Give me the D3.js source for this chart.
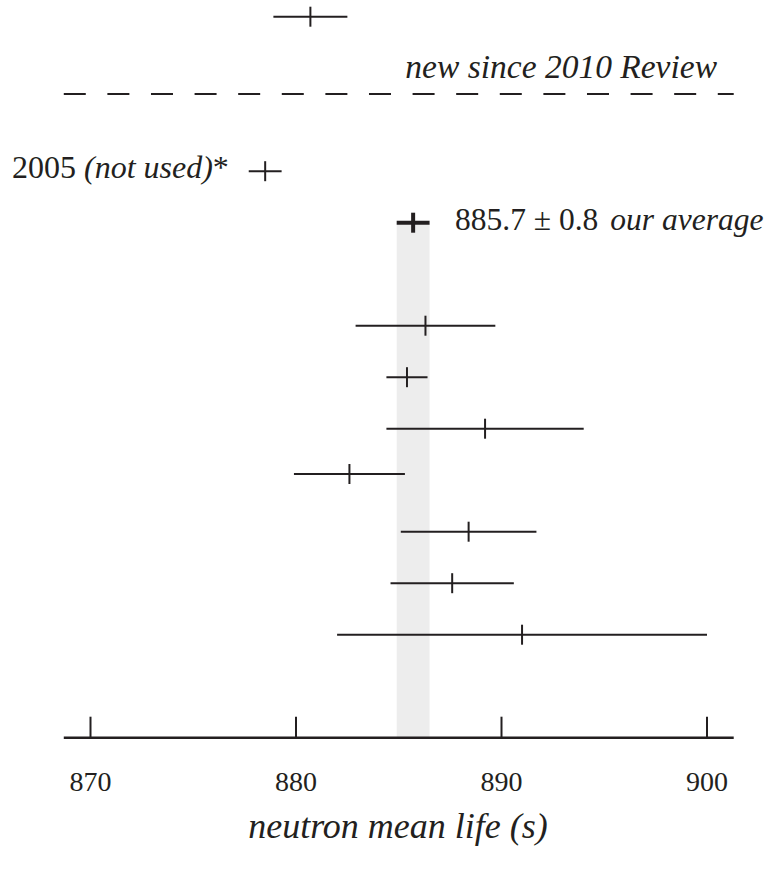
<!DOCTYPE html>
<html>
<head>
<meta charset="utf-8">
<script src="https://cdn.jsdelivr.net/npm/d3@7"></script>
<style>
  html, body { margin: 0; padding: 0; background: #fff; }
</style>
</head>
<body>
<div id="chart"></div>
<script>
// neutron mean life measurements (s): value, error, row position
const values = [880.7, 878.5, 886.3, 885.4, 889.2, 882.6, 888.4, 887.6, 891.0];
const errors = [1.8, 0.8, 3.4, 1.0, 4.8, 2.7, 3.3, 3.0, 9.0];
const rows   = [0, 3, 6, 7, 8, 8.88, 10, 11, 12];

const avgValue = 885.7;
const avgError = 0.8;
const avgRow = 4;
const dividerRow = 1.5;
const axisRow = 14;

const xTicks = [870, 880, 890, 900];
const xDomain = [868.7, 901.3];

const W = 779, H = 869;
const INK = '#231f20';
const FONT = '"Liberation Serif", "Times New Roman", Times';

const svg = d3.select('#chart').append('svg')
  .attr('width', W).attr('height', H);

// every text gets the serif face set on itself
function label(sel) {
  return sel.append('text')
    .attr('font-family', FONT)
    .attr('fill', INK);
}

// scales
const x = d3.scaleLinear()
  .domain([870, 900])
  .range([90.5, 707]);
const y = d3.scaleLinear()
  .domain([0, axisRow])
  .range([16.7, 737.7]);

// average band
svg.append('rect')
  .attr('x', x(avgValue - avgError))
  .attr('width', x(avgValue + avgError) - x(avgValue - avgError))
  .attr('y', y(avgRow))
  .attr('height', y(axisRow) - y(avgRow))
  .attr('fill', '#ededed');

// dashed divider
svg.append('line')
  .attr('x1', x(xDomain[0])).attr('x2', x(xDomain[1]))
  .attr('y1', y(dividerRow)).attr('y2', y(dividerRow))
  .attr('stroke', INK).attr('stroke-width', 2)
  .attr('stroke-dasharray', '22 21.6');

label(svg)
  .attr('x', 717).attr('y', 78)
  .attr('text-anchor', 'end')
  .attr('font-size', 33.5).attr('font-style', 'italic')
  .text('new since 2010 Review');

// measurements
const pts = values.map((v, i) => ({ v, e: errors[i], r: rows[i] }));
const g = svg.append('g').attr('stroke', INK).attr('stroke-width', 2);
g.selectAll('.eb').data(pts).join('line')
  .attr('class', 'eb')
  .attr('x1', d => x(d.v - d.e)).attr('x2', d => x(d.v + d.e))
  .attr('y1', d => y(d.r)).attr('y2', d => y(d.r));
g.selectAll('.ct').data(pts).join('line')
  .attr('class', 'ct')
  .attr('x1', d => x(d.v)).attr('x2', d => x(d.v))
  .attr('y1', d => y(d.r) - 10).attr('y2', d => y(d.r) + 10);

const t05 = label(svg)
  .attr('x', 12).attr('y', y(rows[1]) + 6.5)
  .attr('font-size', 32);
t05.append('tspan').text('2005 ');
t05.append('tspan').attr('font-style', 'italic').text('(not used)');
t05.append('tspan').text('*');

// average marker
const ga = svg.append('g').attr('stroke', INK).attr('stroke-width', 4);
ga.append('line')
  .attr('x1', x(avgValue - avgError)).attr('x2', x(avgValue + avgError))
  .attr('y1', y(avgRow)).attr('y2', y(avgRow));
ga.append('line')
  .attr('x1', x(avgValue)).attr('x2', x(avgValue))
  .attr('y1', y(avgRow) - 10).attr('y2', y(avgRow) + 10);

const tav = label(svg)
  .attr('x', 455).attr('y', y(avgRow) + 7.5)
  .attr('font-size', 31.5);
tav.append('tspan').text(`${avgValue} ± ${avgError}`);
tav.append('tspan').attr('dx', 12).attr('font-style', 'italic').text('our average');

// x axis
const axisY = y(axisRow);
svg.append('line')
  .attr('x1', x(xDomain[0])).attr('x2', x(xDomain[1]))
  .attr('y1', axisY).attr('y2', axisY)
  .attr('stroke', INK).attr('stroke-width', 2.5);

svg.selectAll('.tk').data(xTicks).join('line')
  .attr('class', 'tk')
  .attr('x1', d => x(d)).attr('x2', d => x(d))
  .attr('y1', axisY).attr('y2', axisY - 21)
  .attr('stroke', INK).attr('stroke-width', 2);

svg.selectAll('.tl').data(xTicks).join('text')
  .attr('class', 'tl')
  .attr('font-family', FONT).attr('fill', INK)
  .attr('x', d => x(d)).attr('y', 791)
  .attr('text-anchor', 'middle')
  .attr('font-size', 28)
  .text(d => d);

label(svg)
  .attr('x', 398).attr('y', 838)
  .attr('text-anchor', 'middle')
  .attr('font-size', 36).attr('font-style', 'italic')
  .text('neutron mean life (s)');
</script>
</body>
</html>
